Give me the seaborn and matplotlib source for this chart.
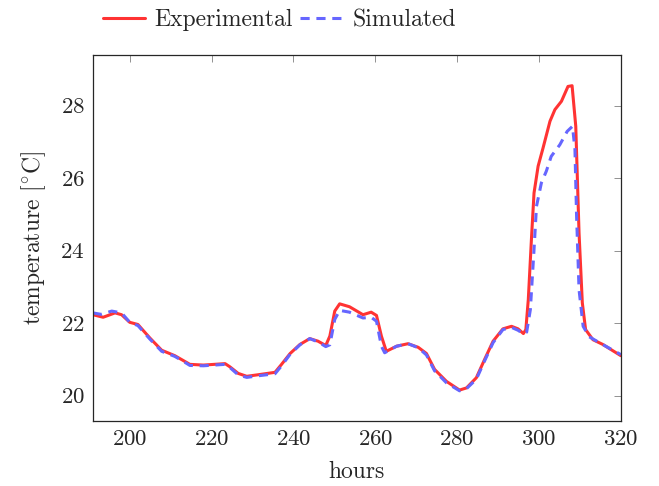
import matplotlib
matplotlib.use("Agg")
import matplotlib.pyplot as plt
import seaborn as sns
import pandas as pd

# Experimental series (hours, temperature)
exp_hours = [191.0, 193.5, 196.4, 198.0, 200.0, 202.0, 204.9, 207.8, 211.0, 212.7,
             214.7, 218.0, 223.3, 224.5, 226.5, 228.6, 231.8, 235.5, 237.1, 239.2,
             241.6, 244.0, 246.0, 247.9, 248.9, 250.1, 251.3, 253.7, 257.0, 259.0,
             260.3, 261.5, 262.7, 265.2, 268.0, 270.5, 272.5, 274.5, 277.4, 280.6,
             282.3, 284.7, 286.7, 288.8, 291.2, 293.3, 294.9, 296.2, 296.8, 297.4,
             298.2, 298.8, 299.8, 301.0, 302.7, 303.9, 305.5, 307.1, 308.1, 309.0,
             309.8, 310.6, 311.4, 313.2, 315.6, 320.0]
exp_temp = [22.23, 22.16, 22.28, 22.23, 22.02, 21.96, 21.59, 21.25, 21.10, 20.99,
            20.86, 20.84, 20.88, 20.79, 20.61, 20.53, 20.58, 20.64, 20.86, 21.16,
            21.41, 21.57, 21.50, 21.38, 21.64, 22.33, 22.53, 22.45, 22.23, 22.30,
            22.21, 21.64, 21.22, 21.36, 21.43, 21.33, 21.16, 20.72, 20.39, 20.15,
            20.21, 20.49, 20.99, 21.50, 21.84, 21.91, 21.84, 21.71, 21.82, 22.65,
            24.39, 25.59, 26.33, 26.83, 27.57, 27.89, 28.12, 28.53, 28.55, 27.43,
            24.49, 22.56, 21.82, 21.54, 21.41, 21.10]

# Simulated series
sim_hours = [191.0, 193.0, 195.6, 198.0, 200.0, 202.0, 204.9, 207.8, 211.0, 212.7,
             214.7, 218.0, 223.3, 224.5, 226.5, 228.6, 231.8, 235.5, 237.1, 239.2,
             241.6, 244.0, 246.0, 247.9, 248.9, 250.1, 251.3, 253.7, 257.0, 259.0,
             260.3, 261.5, 262.3, 265.2, 268.0, 270.5, 272.5, 274.5, 277.4, 280.6,
             282.3, 284.7, 286.7, 288.8, 291.2, 293.3, 294.9, 296.2, 297.0, 297.9,
             298.8, 299.4, 300.6, 301.8, 303.0, 305.1, 306.9, 308.2, 308.8, 309.2,
             309.8, 310.8, 312.3, 314.9, 320.0]
sim_temp = [22.28, 22.24, 22.33, 22.28, 22.02, 21.93, 21.56, 21.22, 21.08, 20.97,
            20.83, 20.82, 20.86, 20.77, 20.57, 20.50, 20.55, 20.60, 20.82, 21.14,
            21.40, 21.57, 21.48, 21.35, 21.40, 22.10, 22.35, 22.30, 22.14, 22.16,
            22.05, 21.36, 21.18, 21.36, 21.43, 21.32, 21.12, 20.68, 20.35, 20.13,
            20.19, 20.45, 20.95, 21.46, 21.82, 21.88, 21.80, 21.70, 21.75, 22.37,
            24.03, 25.22, 25.87, 26.19, 26.60, 26.92, 27.29, 27.43, 26.79, 24.95,
            22.92, 21.91, 21.62, 21.45, 21.13]

x_ticks = [200, 220, 240, 260, 280, 300, 320]
y_ticks = [20, 22, 24, 26, 28]

sns.set_style("white")
plt.rcParams["font.family"] = ["cmr10", "DejaVu Serif"]
plt.rcParams["mathtext.fontset"] = "cm"
plt.rcParams["axes.formatter.use_mathtext"] = True

fig = plt.figure(figsize=(6.59, 4.86), dpi=100)
ax = fig.add_axes([0.141, 0.134, 0.801, 0.753])

df_exp = pd.DataFrame({"hours": exp_hours, "temp": exp_temp})
df_sim = pd.DataFrame({"hours": sim_hours, "temp": sim_temp})

sns.lineplot(data=df_exp, x="hours", y="temp", ax=ax, color="#ff3333",
             linewidth=2.2, label="Experimental")
sns.lineplot(data=df_sim, x="hours", y="temp", ax=ax, color="#6666ff",
             linewidth=2.2, dashes=False, label="Simulated")
ax.lines[1].set_dashes([3, 2.2])

ax.set_xlim(191, 320)
ax.set_ylim(19.3, 29.4)
ax.set_xticks(x_ticks)
ax.set_yticks(y_ticks)
ax.tick_params(direction="in", length=5, width=0.6, color="0.5",
               top=True, right=True, labelsize=16.5, pad=6)
for s in ax.spines.values():
    s.set_color("0.15")
    s.set_linewidth(0.9)

ax.set_xlabel("hours", fontsize=17, labelpad=9)
ax.set_ylabel(r"temperature [$^{\circ}\mathrm{C}$]", fontsize=17, labelpad=9)

ax.legend_.remove()
handles, labels = ax.get_legend_handles_labels()
fig.legend(handles, labels, loc="center left", bbox_to_anchor=(0.156, 0.958),
           ncol=2, frameon=False, fontsize=17, handlelength=1.8,
           handletextpad=0.4, columnspacing=0.3, borderaxespad=0,
           borderpad=0)

fig.savefig("out.png", dpi=100)
